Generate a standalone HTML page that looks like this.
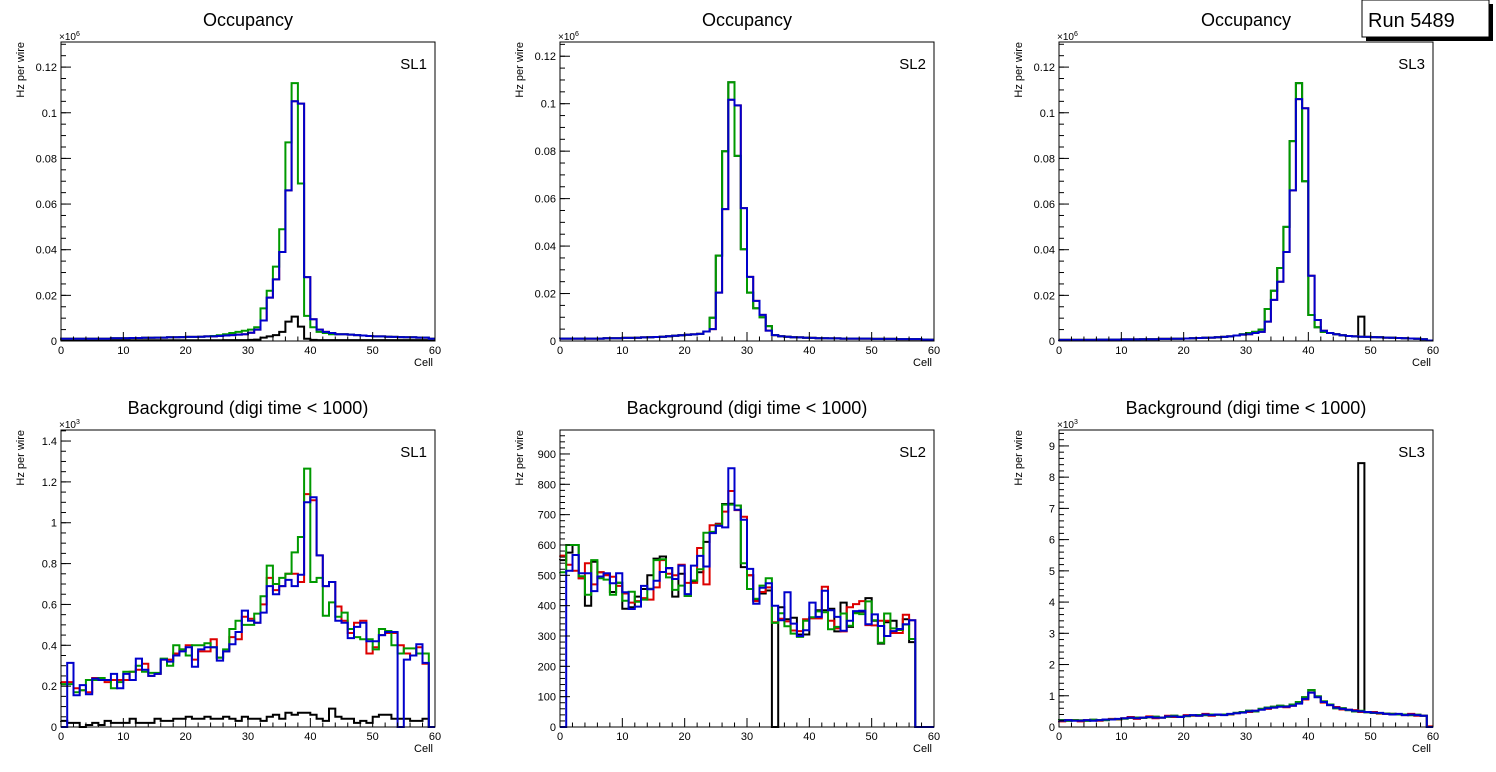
<!DOCTYPE html>
<html><head><meta charset="utf-8"><style>
body{margin:0;background:#fff;}
svg{display:block;font-family:"Liberation Sans",sans-serif;}
</style></head><body>
<svg id="c" width="1496" height="772" viewBox="0 0 1496 772"></svg>
<script>
const cells = Array.from({length:60},(_,i)=>i);
// Top row: occupancy (x1e6)
const occ1Blue=[0.001,0.001,0.001,0.001,0.001,0.001,0.001,0.001,0.0012,0.0012,0.0012,0.0013,0.0013,0.0014,0.0014,0.0015,0.0015,0.0016,0.0016,0.0017,0.0018,0.0018,0.0019,0.002,0.002,0.0022,0.0024,0.0026,0.0028,0.003,0.0036,0.005,0.009,0.019,0.027,0.039,0.066,0.105,0.104,0.028,0.0095,0.005,0.004,0.0035,0.003,0.003,0.0028,0.0026,0.0024,0.0022,0.002,0.002,0.0019,0.0018,0.0017,0.0016,0.0016,0.0015,0.0015,0.001];
const occ1Green=[0.001,0.001,0.001,0.001,0.001,0.001,0.001,0.001,0.0012,0.0012,0.0012,0.0013,0.0013,0.0014,0.0014,0.0015,0.0015,0.0016,0.0016,0.0017,0.0018,0.0018,0.0019,0.002,0.0022,0.0025,0.003,0.0035,0.004,0.0045,0.005,0.006,0.0143,0.022,0.0326,0.049,0.087,0.113,0.069,0.011,0.006,0.004,0.0035,0.003,0.003,0.003,0.0028,0.0026,0.0024,0.0022,0.002,0.002,0.0019,0.0018,0.0017,0.0016,0.0016,0.0015,0.0015,0.001];
const occ1Black=[0.0003,0.0003,0.0003,0.0003,0.0003,0.0003,0.0003,0.0003,0.0003,0.0003,0.0003,0.0003,0.0003,0.0003,0.0003,0.0003,0.0003,0.0003,0.0003,0.0003,0.0003,0.0003,0.0003,0.0003,0.0003,0.0003,0.0004,0.0004,0.0004,0.0004,0.0005,0.0006,0.0015,0.002,0.0026,0.004,0.0085,0.0107,0.0063,0.001,0.0005,0.0004,0.0004,0.0004,0.0004,0.0004,0.0004,0.0004,0.0004,0.0004,0.0004,0.0004,0.0004,0.0004,0.0004,0.0004,0.0004,0.0004,0.0004,0.0003];
const occ2Blue=[0.001,0.001,0.001,0.001,0.001,0.001,0.001,0.0012,0.0012,0.0012,0.0013,0.0013,0.0014,0.0015,0.0016,0.0017,0.0018,0.002,0.0022,0.0024,0.0026,0.0028,0.003,0.004,0.005,0.0204,0.0556,0.1017,0.0993,0.056,0.027,0.0169,0.011,0.0044,0.0025,0.002,0.0018,0.0016,0.0015,0.0014,0.0013,0.0012,0.0012,0.0011,0.0011,0.001,0.001,0.001,0.001,0.001,0.0009,0.0009,0.0009,0.0009,0.0008,0.0008,0.0008,0.0008,0.0006,0.0005];
const occ2Green=[0.001,0.001,0.001,0.001,0.001,0.001,0.001,0.0012,0.0012,0.0012,0.0013,0.0013,0.0014,0.0015,0.0016,0.0017,0.0018,0.002,0.0022,0.0024,0.0026,0.0028,0.003,0.004,0.0098,0.036,0.080,0.109,0.078,0.0387,0.0204,0.0138,0.01,0.0063,0.0025,0.002,0.0018,0.0016,0.0015,0.0014,0.0013,0.0012,0.0012,0.0011,0.0011,0.001,0.001,0.001,0.001,0.001,0.0009,0.0009,0.0009,0.0009,0.0008,0.0008,0.0008,0.0008,0.0006,0.0005];
const occ3Blue=[0.0005,0.0005,0.0005,0.0005,0.0005,0.0005,0.0006,0.0006,0.0006,0.0006,0.0007,0.0007,0.0007,0.0008,0.0008,0.0008,0.0009,0.0009,0.001,0.001,0.0011,0.0012,0.0013,0.0014,0.0015,0.0016,0.0018,0.002,0.0024,0.0028,0.003,0.0035,0.004,0.0085,0.018,0.026,0.039,0.066,0.106,0.102,0.0286,0.0092,0.0045,0.0035,0.003,0.0025,0.0022,0.002,0.0019,0.0018,0.0017,0.0016,0.0015,0.0014,0.0013,0.0012,0.0011,0.001,0.0008,0.0002];
const occ3Green=[0.0005,0.0005,0.0005,0.0005,0.0005,0.0005,0.0006,0.0006,0.0006,0.0006,0.0007,0.0007,0.0007,0.0008,0.0008,0.0008,0.0009,0.0009,0.001,0.001,0.0011,0.0012,0.0013,0.0014,0.0015,0.0016,0.0018,0.002,0.0024,0.003,0.0035,0.004,0.005,0.014,0.022,0.032,0.050,0.0876,0.113,0.070,0.0114,0.006,0.004,0.0035,0.003,0.0025,0.0022,0.002,0.0019,0.0018,0.0017,0.0016,0.0015,0.0014,0.0013,0.0012,0.0011,0.001,0.0008,0.0002];
const occ3Black=occ3Green.map((v,i)=>i===48?0.0107:v);
// Bottom row: background
const bg1Blue=[0,0.314,0.155,0.205,0.16,0.237,0.23,0.23,0.26,0.19,0.26,0.23,0.335,0.28,0.25,0.26,0.33,0.32,0.35,0.37,0.39,0.295,0.38,0.39,0.39,0.325,0.37,0.405,0.465,0.57,0.52,0.51,0.56,0.69,0.65,0.69,0.72,0.69,0.745,1.10,1.125,0.84,0.69,0.71,0.52,0.51,0.435,0.49,0.51,0.42,0.42,0.45,0.465,0.465,0,0.33,0.35,0.405,0.314,0];
const bg1Red=[0.22,0.22,0.19,0.18,0.17,0.24,0.24,0.22,0.23,0.23,0.23,0.27,0.28,0.31,0.25,0.26,0.33,0.33,0.36,0.38,0.40,0.33,0.37,0.37,0.43,0.34,0.37,0.44,0.43,0.54,0.53,0.51,0.60,0.73,0.67,0.69,0.75,0.75,0.71,1.14,1.11,0.84,0.69,0.71,0.59,0.52,0.46,0.51,0.52,0.36,0.39,0.45,0.46,0.46,0.40,0.36,0.35,0.39,0.31,0];
const bg1Green=[0.21,0.21,0.17,0.18,0.23,0.23,0.24,0.23,0.19,0.22,0.27,0.27,0.30,0.27,0.265,0.265,0.335,0.30,0.40,0.38,0.35,0.40,0.40,0.41,0.39,0.34,0.38,0.48,0.52,0.50,0.50,0.555,0.64,0.79,0.70,0.73,0.75,0.855,0.93,1.265,0.71,0.73,0.545,0.61,0.54,0.56,0.48,0.44,0.43,0.43,0.38,0.48,0.47,0.40,0.36,0.385,0.385,0.36,0.36,0];
const bg1Black=[0.03,0.02,0.02,0.0,0.01,0.02,0.01,0.03,0.02,0.02,0.02,0.04,0.02,0.02,0.02,0.04,0.03,0.03,0.04,0.04,0.05,0.04,0.04,0.05,0.04,0.04,0.05,0.04,0.03,0.05,0.04,0.04,0.03,0.05,0.06,0.04,0.07,0.06,0.07,0.07,0.06,0.04,0.03,0.09,0.05,0.04,0.04,0.02,0.03,0.02,0.05,0.06,0.06,0.04,0.04,0.04,0.03,0.03,0.04,0.0];
const bg2Blue=[0,515,567,507,507,448,496,507,474,507,444,389,397,465,454,482,511,524,488,532,438,532,564,529,639,663,658,853,716,683,521,406,459,474,400,352,444,341,300,319,410,363,449,385,363,317,350,382,383,339,371,333,300,316,323,339,352,0,0,0];
const bg2Green=[510,600,600,497,436,550,490,486,436,476,416,446,413,420,456,550,553,493,452,466,432,483,520,640,643,665,733,733,730,540,455,423,466,490,343,375,332,308,297,350,362,381,378,322,330,374,334,375,372,414,352,278,374,325,320,338,290,0,0,0];
const bg2Red=[565,535,515,490,540,470,510,500,495,465,440,410,415,425,420,460,550,505,500,535,475,475,590,470,665,668,710,778,715,693,500,415,445,460,345,357,348,318,316,355,358,358,462,350,325,315,395,405,415,336,335,350,350,310,310,370,352,0,0,0];
const bg2Black=[550,575,600,490,400,545,510,505,445,475,390,395,430,455,500,555,562,523,430,505,432,480,510,610,640,670,735,736,730,527,500,420,440,450,0,395,355,360,305,305,360,385,385,390,315,410,330,380,380,425,350,275,345,350,320,355,280,0,0,0];
const bg3Blue=[0.2,0.22,0.2,0.2,0.22,0.2,0.22,0.24,0.24,0.26,0.28,0.3,0.28,0.3,0.32,0.3,0.3,0.34,0.34,0.32,0.36,0.38,0.36,0.4,0.38,0.4,0.38,0.42,0.44,0.46,0.5,0.52,0.55,0.6,0.62,0.65,0.65,0.68,0.75,0.9,1.1,0.95,0.8,0.7,0.62,0.58,0.55,0.52,0.5,0.48,0.46,0.45,0.42,0.4,0.42,0.38,0.4,0.38,0.36,0];
const bg3Green=[0.22,0.2,0.22,0.21,0.2,0.23,0.22,0.22,0.25,0.25,0.27,0.29,0.3,0.29,0.31,0.33,0.3,0.33,0.36,0.33,0.35,0.37,0.38,0.38,0.4,0.39,0.4,0.41,0.45,0.48,0.52,0.5,0.58,0.62,0.65,0.68,0.66,0.72,0.8,0.95,1.18,0.98,0.82,0.72,0.6,0.6,0.54,0.5,0.52,0.47,0.45,0.44,0.43,0.42,0.4,0.4,0.38,0.39,0.36,0];
const bg3Red=bg3Blue.map((v,i)=>v+((i%3)-1)*0.02);
const bg3Black=bg3Green.map((v,i)=>i===48?8.45:v);

const yTicksOcc=[0,0.02,0.04,0.06,0.08,0.1,0.12];
const yTicksBg1=[0,0.2,0.4,0.6,0.8,1,1.2,1.4];
const yTicksBg2=[0,100,200,300,400,500,600,700,800,900];
const yTicksBg3=[0,1,2,3,4,5,6,7,8,9];
const xTicks=[0,10,20,30,40,50,60];

const NS="http://www.w3.org/2000/svg";
const svg=document.getElementById('c');
function mk(tag,attrs,parent,text){const e=document.createElementNS(NS,tag);for(const k in attrs)e.setAttribute(k,attrs[k]);if(text!==undefined)e.textContent=text;(parent||svg).appendChild(e);return e;}

const panels=[
 {x0:61,y0:42,y1:341,ymax:0.131,title:"Occupancy",sl:"SL1",exp:"6",ticks:yTicksOcc,minor:0.005,series:[["#000",occ1Black],["#d00",occ1Blue],["#090",occ1Green],["#00c",occ1Blue]]},
 {x0:560,y0:42,y1:341,ymax:0.126,title:"Occupancy",sl:"SL2",exp:"6",ticks:yTicksOcc,minor:0.005,series:[["#000",occ2Green],["#d00",occ2Blue],["#090",occ2Green],["#00c",occ2Blue]]},
 {x0:1059,y0:42,y1:341,ymax:0.131,title:"Occupancy",sl:"SL3",exp:"6",ticks:yTicksOcc,minor:0.005,series:[["#000",occ3Black],["#d00",occ3Blue],["#090",occ3Green],["#00c",occ3Blue]]},
 {x0:61,y0:430,y1:727,ymax:1.454,title:"Background (digi time < 1000)",sl:"SL1",exp:"3",ticks:yTicksBg1,minor:0.05,series:[["#000",bg1Black],["#d00",bg1Red],["#090",bg1Green],["#00c",bg1Blue]]},
 {x0:560,y0:430,y1:727,ymax:979,title:"Background (digi time < 1000)",sl:"SL2",exp:null,ticks:yTicksBg2,minor:20,series:[["#000",bg2Black],["#d00",bg2Red],["#090",bg2Green],["#00c",bg2Blue]]},
 {x0:1059,y0:430,y1:727,ymax:9.51,title:"Background (digi time < 1000)",sl:"SL3",exp:"3",ticks:yTicksBg3,minor:0.2,series:[["#000",bg3Black],["#d00",bg3Red],["#090",bg3Green],["#00c",bg3Blue]]},
];
const W=374;
const names=['black','red','green','blue'];
panels.forEach((p,pi)=>{
 const g=mk('g',{});
 
 
 const xs=v=>p.x0+v/60*W;
 const ys=v=>p.y1-Math.min(v,p.ymax)/p.ymax*(p.y1-p.y0);
 const t=mk('text',{x:p.x0+W/2,y:p.y0-16,'font-size':18,'text-anchor':'middle'},g,p.title);
 
 // series
 p.series.forEach((s,si)=>{
  const vals=s[1];
  let d='M'+xs(0)+','+ys(vals[0]);
  cells.forEach(i=>{d+=' V'+ys(vals[i]).toFixed(1)+' H'+xs(i+1).toFixed(1);});
  const path=mk('path',{d:d,fill:'none',stroke:s[0],'stroke-width':2},g);
  
  
 });
 // frame
 const fr=mk('rect',{x:p.x0,y:p.y0,width:W,height:p.y1-p.y0,fill:'none',stroke:'#000','stroke-width':1},g);
 
 // x ticks
 for(let v=0;v<=60;v+=2){const L=v%10===0?9:4.5;mk('line',{x1:xs(v),x2:xs(v),y1:p.y1,y2:p.y1-L,stroke:'#000','stroke-width':1},g);}
 xTicks.forEach(v=>{const tl=mk('text',{x:xs(v),y:p.y1+13,'font-size':11,'text-anchor':'middle'},g,String(v));
  });
 const xt=mk('text',{x:p.x0+W-2,y:p.y1+25,'font-size':11,'text-anchor':'end'},g,'Cell');
 
 // y ticks
 for(let v=0;v<=p.ymax+1e-9;v+=p.minor){mk('line',{x1:p.x0,x2:p.x0+5,y1:ys(v),y2:ys(v),stroke:'#000','stroke-width':1},g);}
 p.ticks.forEach(v=>{mk('line',{x1:p.x0,x2:p.x0+10,y1:ys(v),y2:ys(v),stroke:'#000','stroke-width':1},g);
  const lbl=Math.round(v*1000)/1000;
  const tl=mk('text',{x:p.x0-4,y:ys(v)+4,'font-size':11,'text-anchor':'end'},g,String(lbl));
  });
 if(p.exp){const e=mk('text',{x:p.x0-2,y:p.y0-2,'font-size':10},g);
  
  e.textContent='×10';mk('tspan',{dy:-4,'font-size':7},e,p.exp);}
 const yt=mk('text',{x:0,y:0,'font-size':11,'text-anchor':'end',transform:'translate('+(p.x0-37)+','+p.y0+') rotate(-90)'},g,'Hz per wire');
 
 const sl=mk('text',{x:p.x0+W-8,y:p.y0+27,'font-size':15,'text-anchor':'end'},g,p.sl);
 
});
// run box
const rb=mk('g',{});

mk('rect',{x:1366,y:4,width:127,height:37,fill:'#000'},rb);
mk('rect',{x:1362,y:0,width:127,height:37,fill:'#fff',stroke:'#000','stroke-width':1},rb);
mk('text',{x:1368,y:27,'font-size':20},rb,'Run 5489');
</script>
</body></html>
